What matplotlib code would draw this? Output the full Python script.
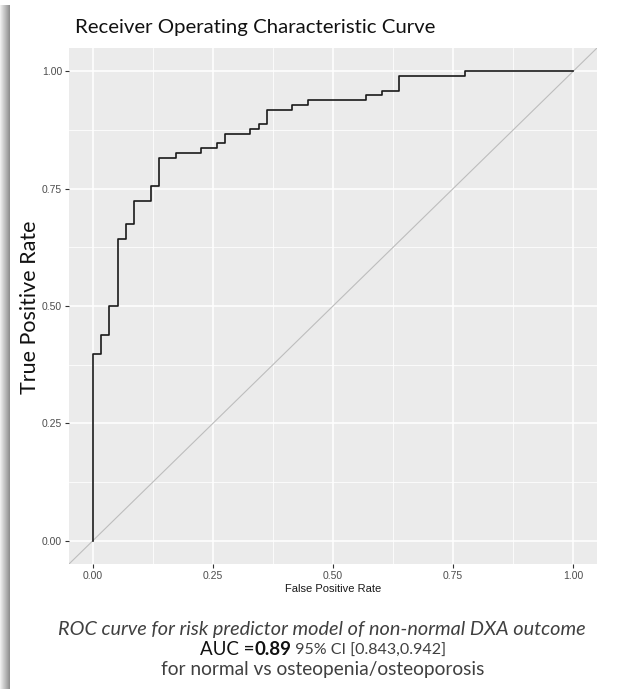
import numpy as np
import matplotlib
matplotlib.use("Agg")
import matplotlib.pyplot as plt

# ROC step vertices (curve jumps up at each fpr)
fpr = [0.0, 0.0, 0.017, 0.034, 0.052, 0.069, 0.086, 0.121, 0.138, 0.172, 0.224, 0.259,
       0.276, 0.328, 0.345, 0.362, 0.414, 0.448, 0.569, 0.603, 0.638, 0.776, 1.0]
tpr = [0.0, 0.397, 0.438, 0.500, 0.643, 0.674, 0.723, 0.755, 0.816, 0.826, 0.837, 0.847,
       0.867, 0.877, 0.889, 0.918, 0.928, 0.940, 0.949, 0.959, 0.990, 1.0, 1.0]

ticks = [0.0, 0.25, 0.50, 0.75, 1.0]
tick_labels = ["0.00", "0.25", "0.50", "0.75", "1.00"]
minor_ticks = [0.125, 0.375, 0.625, 0.875]

title = "Receiver Operating Characteristic Curve"
caption1 = "ROC curve for risk predictor model of non-normal DXA outcome"
caption_auc = ["AUC =", "0.89", " 95% CI [0.843,0.942]"]
caption3 = "for normal vs osteopenia/osteoporosis"

W, H = 622, 689
fig = plt.figure(figsize=(W / 100, H / 100), dpi=100)

# left drop shadow of the screenshot
shadow = fig.add_axes([0, 0, 10 / W, 1 - 5 / H])
grad = np.linspace(0.95, 0.55, 50).reshape(1, -1)
shadow.imshow(grad, cmap="gray", vmin=0, vmax=1, aspect="auto")
shadow.axis("off")

ax = fig.add_axes([69 / W, 1 - 564 / H, (597 - 69) / W, (564 - 48) / H])
ax.set_facecolor("#EBEBEB")
for s in ax.spines.values():
    s.set_visible(False)

ax.set_xlim(-0.05, 1.05)
ax.set_ylim(-0.05, 1.05)
ax.set_xticks(ticks)
ax.set_xticklabels(tick_labels, family="Liberation Sans")
ax.set_yticks(ticks)
ax.set_yticklabels(tick_labels, family="Liberation Sans")
ax.set_xticks(minor_ticks, minor=True)
ax.set_yticks(minor_ticks, minor=True)
ax.tick_params(which="major", length=3, width=0.8, color="#333333",
               labelsize=7.5, labelcolor="#4D4D4D", pad=2)
ax.tick_params(which="minor", length=0)
ax.grid(which="major", color="white", linewidth=1.1)
ax.grid(which="minor", color="white", linewidth=0.55)
ax.set_axisbelow(True)

ax.plot([-0.05, 1.05], [-0.05, 1.05], color="#BDBDBD", linewidth=0.8)
ax.step(fpr, tpr, where="post", color="#1A1A1A", linewidth=1.2)

ax.set_xlabel("False Positive Rate", fontsize=8, family="Liberation Sans",
              color="#1A1A1A", labelpad=2)

fig.text(75 / W, 1 - 27 / H, title, fontsize=14.7, family="Lato",
         ha="left", va="center", color="#111111")
fig.text(30 / W, 1 - 307 / H, "True Positive Rate", fontsize=15.5, family="Lato",
         rotation=90, ha="center", va="center", color="#111111")

fig.text(322 / W, 1 - 629 / H, caption1, fontsize=14.3, family="Lato", style="italic",
         ha="center", va="center", color="#404040")
fig.text(323 / W, 1 - 670 / H, caption3, fontsize=13.8, family="Lato",
         ha="center", va="center", color="#404040")

# mixed-style AUC line, laid out piece by piece and centred
styles = [dict(fontsize=13.5, weight="normal", color="#111111"),
          dict(fontsize=13.5, weight="bold", color="#111111"),
          dict(fontsize=11.5, weight="normal", color="#404040")]
pieces = [fig.text(0, 1 - 655 / H, t, family="Lato", va="baseline", **st)
          for t, st in zip(caption_auc, styles)]
fig.canvas.draw()
r = fig.canvas.get_renderer()
widths = [p.get_window_extent(r).width for p in pieces]
x0 = 323 - sum(widths) / 2
for p, w in zip(pieces, widths):
    p.set_x(x0 / W)
    x0 += w

fig.savefig("out.png", dpi=100)
